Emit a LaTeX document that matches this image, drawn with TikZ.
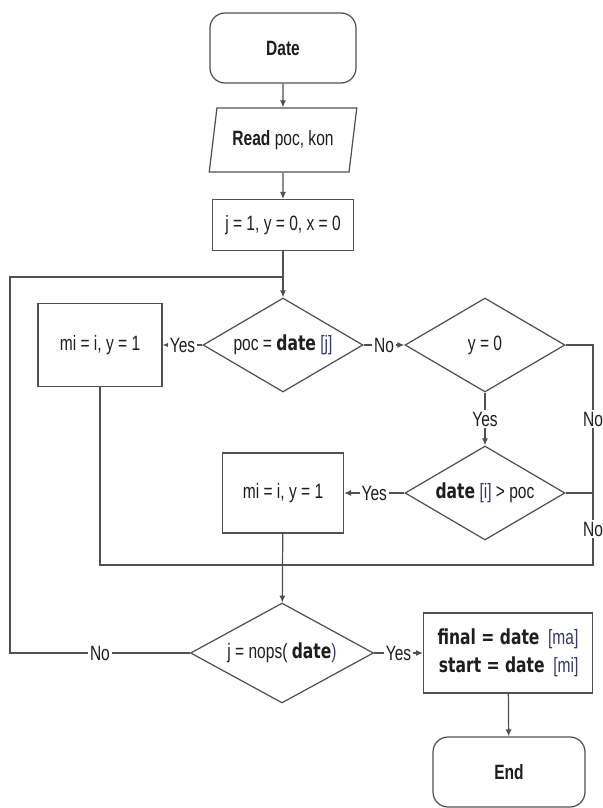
\documentclass[tikz,border=0pt]{standalone}
\usepackage{fontspec}
\setmainfont{Liberation Sans}[FakeStretch=0.75]
\newfontfamily\mapfont{DejaVu Sans}[FakeStretch=0.75]
\usepackage{xcolor}
\usepackage{tikz}
\usetikzlibrary{shapes.geometric}
\usetikzlibrary{arrows.meta}

\definecolor{linegray}{HTML}{505050}
\definecolor{txt}{HTML}{1E1E1E}
\definecolor{brk}{HTML}{34386A}

\newcommand{\dte}{{\mapfont\bfseries date}}

\tikzset{
  every node/.style={font=\fontsize{11.8}{16}\selectfont, text=txt},
  term/.style={draw=linegray, line width=0.7pt, rounded corners=0.3cm,
    minimum width=2.92cm, minimum height=1.4cm},
  io/.style={draw=linegray, line width=0.7pt, trapezium, trapezium stretches=true,
    trapezium left angle=78, trapezium right angle=102,
    minimum width=2.96cm, minimum height=1.28cm},
  proc/.style={draw=linegray, line width=0.7pt, minimum width=2.45cm, minimum height=1.63cm},
  cond/.style={draw=linegray, line width=0.7pt, diamond, aspect=1.7, inner sep=0pt,
    minimum width=3.2cm, minimum height=1.88cm},
  line/.style={draw=linegray, line width=0.7pt},
  flow/.style={line, -{Latex[length=4pt,width=3.5pt]}},
  lbl/.style={fill=white, inner sep=1pt}
}

\begin{document}
\begin{tikzpicture}[x=0.02cm, y=-0.02cm]
  \useasboundingbox (0, 0) rectangle (602, 808);

  % main column
  \node[term] (start) at (283, 48) {\textbf{Date}};
  \node[io] (read) at (283, 140) {\textbf{Read} poc, kon};
  \node[proc, minimum width=2.82cm, minimum height=1.02cm] (init) at (283, 225) {j = 1, y = 0, x = 0};
  \node[cond] (dec1) at (283, 345) {poc = \dte\ {\color{brk}[j]}};
  \node[proc, minimum width=2.48cm, minimum height=1.66cm] (box1) at (100, 345) {mi = i, y = 1};
  \node[cond] (dec2) at (485, 345) {y = 0};
  \node[cond] (dec3) at (485, 493) {\dte\ {\color{brk}[i]} > poc};
  \node[proc, minimum width=2.42cm, minimum height=1.6cm] (box2) at (283, 493) {mi = i, y = 1};
  \node[cond, minimum width=3.66cm, minimum height=2cm] (dec4) at (282, 653) {j = nops( \dte{\color{brk})}};
  \node[proc, minimum width=3.38cm, minimum height=1.6cm, align=right] (final) at (508, 653)
    {{\mapfont\bfseries final = date}\ \ {\color{brk}[ma]}\\{\mapfont\bfseries start = date}\ \ {\color{brk}[mi]}};
  \node[term, minimum width=3.04cm] (end) at (509, 772) {\textbf{End}};

  % corners of the loops
  \coordinate (r1) at (593, 345);
  \coordinate (r2) at (593, 493);
  \coordinate (r3) at (593, 565);
  \coordinate (m1) at (100, 565);
  \coordinate (l1) at (10, 653);
  \coordinate (l2) at (10, 277);
  \coordinate (j1) at (283, 277);

  \draw[flow] (start) -- (read);
  \draw[flow] (read) -- (init);
  \draw[flow] (init) -- (dec1);
  \draw[flow] (dec1) -- node[lbl] {Yes} (box1);
  \draw[flow] (dec1) -- node[lbl] {No} (dec2);
  \draw[flow] (dec2) -- node[lbl] {Yes} (dec3);
  \draw[flow] (dec3) -- node[lbl] {Yes} (box2);
  \draw[line] (dec2.east) -- (r1) -- node[lbl] {No} (r2);
  \draw[line] (dec3.east) -- (r2) -- node[lbl] {No} (r3) -- (m1) -- (box1.south);
  \draw[flow] (box2) -- (dec4);
  \draw[line] (dec4.west) -- node[lbl] {No} (l1) -- (l2) -- (j1);
  \draw[flow] (dec4) -- node[lbl] {Yes} (final);
  \draw[flow] (final) -- (end);
\end{tikzpicture}
\end{document}
